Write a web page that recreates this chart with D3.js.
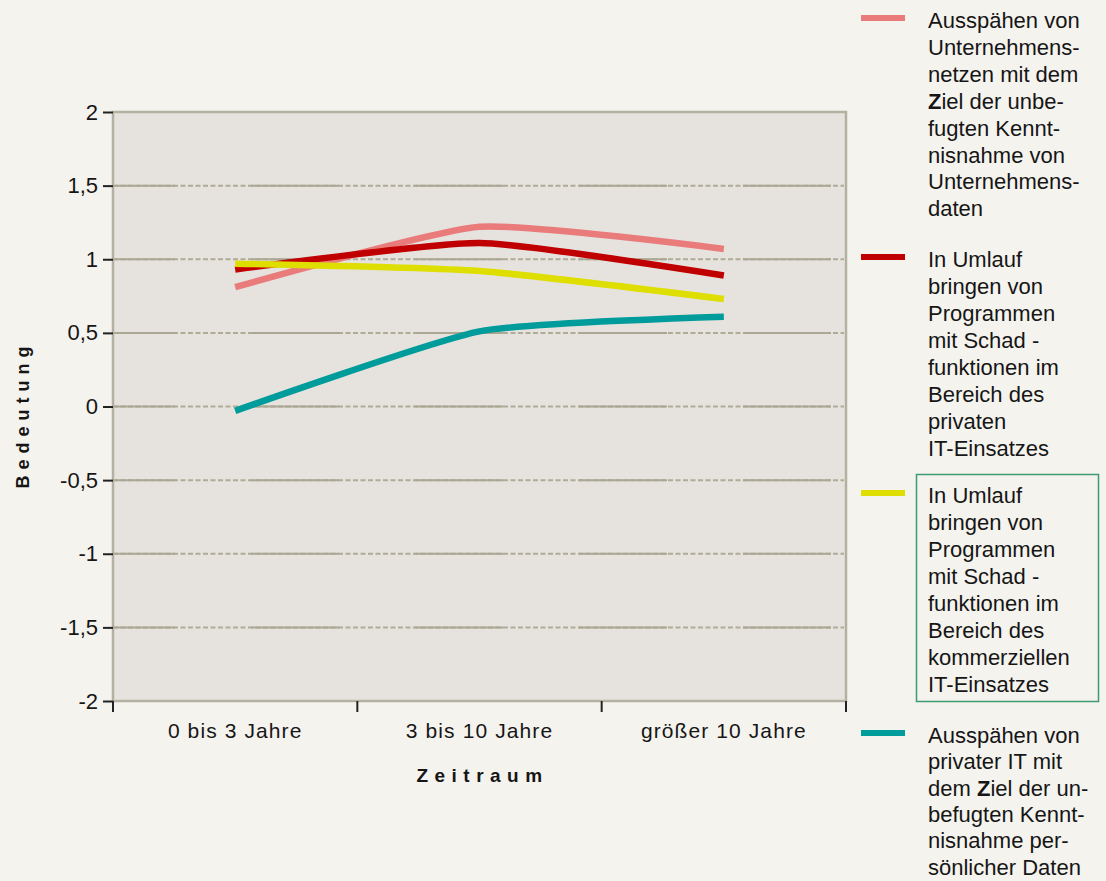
<!DOCTYPE html>
<html><head><meta charset="utf-8">
<script src="https://cdn.jsdelivr.net/npm/d3@7"></script>
<style>
html,body{margin:0;padding:0;background:#f5f3ee;}
svg{display:block;}
text{font-family:"Liberation Sans",Arial,sans-serif;fill:#161616;}
</style></head>
<body>
<svg id="chart" width="1106" height="881"></svg>
<script>
const categories = ["0 bis 3 Jahre", "3 bis 10 Jahre", "größer 10 Jahre"];
const yTicks = [-2, -1.5, -1, -0.5, 0, 0.5, 1, 1.5, 2];
const valuesAusspaehenUnternehmen = [0.81, 1.22, 1.07];
const valuesSchadPrivat = [0.93, 1.11, 0.89];
const valuesSchadKommerziell = [0.97, 0.92, 0.73];
const valuesAusspaehenPrivat = [-0.03, 0.51, 0.61];
const seriesColors = ["#ea7b7b", "#c00000", "#dede00", "#009b9b"];
const legendLines = [
  ["Ausspähen von", "Unternehmens-", "netzen mit dem", "<b>Z</b>iel der unbe-", "fugten Kennt-", "nisnahme von", "Unternehmens-", "daten"],
  ["In Umlauf", "bringen von", "Programmen", "mit Schad -", "funktionen im", "Bereich des", "privaten", "IT-Einsatzes"],
  ["In Umlauf", "bringen von", "Programmen", "mit Schad -", "funktionen im", "Bereich des", "kommerziellen", "IT-Einsatzes"],
  ["Ausspähen von", "privater IT mit", "dem <b>Z</b>iel der un-", "befugten Kennt-", "nisnahme per-", "sönlicher Daten"]
];
const yAxisTitle = "Bedeutung";
const xAxisTitle = "Zeitraum";

const series = [valuesAusspaehenUnternehmen, valuesSchadPrivat, valuesSchadKommerziell, valuesAusspaehenPrivat];

const svg = d3.select("#chart");
const L = 113, R = 846, T = 112, B = 701;

const x = d3.scaleBand().domain(categories).range([L, R]);
const y = d3.scaleLinear().domain([-2, 2]).range([B, T]);

svg.append("rect").attr("x", L).attr("y", T).attr("width", R - L).attr("height", B - T)
  .attr("fill", "#e6e3de");

const grid = svg.append("g");
yTicks.filter(d => d > -2 && d < 2).forEach(v => {
  grid.append("line").attr("x1", L).attr("x2", R - 2).attr("y1", y(v)).attr("y2", y(v))
    .attr("stroke", "#aeac98").attr("stroke-width", 2).attr("stroke-dasharray", "5,2.5");
  grid.append("line").attr("x1", L).attr("x2", R - 2).attr("y1", y(v)).attr("y2", y(v))
    .attr("stroke", "#aaa894").attr("stroke-width", 2).attr("stroke-dasharray", "88,76")
    .attr("stroke-dashoffset", 26);
});

svg.append("rect").attr("x", L).attr("y", T).attr("width", R - L).attr("height", B - T)
  .attr("fill", "none").attr("stroke", "#b3b1a2").attr("stroke-width", 2.5);

const yAxis = svg.append("g").attr("transform", `translate(${L},0)`)
  .call(d3.axisLeft(y).tickValues(yTicks).tickSize(10).tickPadding(5)
    .tickFormat(d => String(d).replace(".", ",")));
yAxis.select(".domain").remove();
yAxis.selectAll(".tick line").attr("stroke", "#222").attr("stroke-width", 2);
yAxis.selectAll(".tick text").attr("font-size", 22).attr("fill", "#161616")
  .attr("font-family", "'Liberation Sans',Arial,sans-serif");

const xAxisG = svg.append("g").attr("transform", `translate(0,${B})`)
  .call(d3.axisBottom(x).tickSize(0).tickPadding(22));
xAxisG.select(".domain").remove();
xAxisG.selectAll(".tick text").attr("font-size", 21).attr("fill", "#161616")
  .attr("letter-spacing", "1.1px")
  .attr("font-family", "'Liberation Sans',Arial,sans-serif");
const boundaries = categories.map(c => x(c)).concat([x(categories[categories.length - 1]) + x.bandwidth()]);
svg.append("g").selectAll("line").data(boundaries).join("line")
  .attr("x1", d => d).attr("x2", d => d).attr("y1", B).attr("y2", B + 11)
  .attr("stroke", "#222").attr("stroke-width", 2);

svg.append("text").attr("transform", `translate(29,${(T + B) / 2 + 8}) rotate(-90)`)
  .attr("text-anchor", "middle").attr("font-size", 18).attr("font-weight", "bold")
  .attr("letter-spacing", "6px").text(yAxisTitle);
svg.append("text").attr("x", x(categories[1]) + x.bandwidth() / 2 + 3).attr("y", 782)
  .attr("text-anchor", "middle").attr("font-size", 19).attr("font-weight", "bold")
  .attr("letter-spacing", "6.5px").text(xAxisTitle);

const line = d3.line()
  .x((d, i) => x(categories[i]) + x.bandwidth() / 2)
  .y(d => y(d))
  .curve(d3.curveCardinal.tension(0.45));
svg.append("g").selectAll("path").data(series).join("path")
  .attr("d", d => line(d)).attr("fill", "none")
  .attr("stroke", (d, i) => seriesColors[i]).attr("stroke-width", 6.5)
  .attr("stroke-linecap", "butt");

const legendTop = [20, 259, 495, 735];
const lineH = [26.9, 27, 27, 26.3];
const lg = svg.append("g");
legendLines.forEach((lines, i) => {
  lg.append("line").attr("x1", 861).attr("x2", 905).attr("y1", legendTop[i] - 2).attr("y2", legendTop[i] - 2)
    .attr("stroke", seriesColors[i]).attr("stroke-width", 6);
  lines.forEach((t, j) => {
    const tx = lg.append("text").attr("x", 928).attr("y", legendTop[i] + j * lineH[i] + 8)
      .attr("font-size", 22);
    const parts = t.split(/(<b>.*?<\/b>)/);
    parts.forEach(p => {
      if (!p) return;
      if (p.startsWith("<b>")) tx.append("tspan").attr("font-weight", "bold").text(p.replace(/<\/?b>/g, ""));
      else tx.append("tspan").text(p);
    });
  });
});
lg.append("rect").attr("x", 916.5).attr("y", 474.5).attr("width", 182).attr("height", 227)
  .attr("fill", "none").attr("stroke", "#3c9c6c").attr("stroke-width", 1.5);
</script>
</body></html>
